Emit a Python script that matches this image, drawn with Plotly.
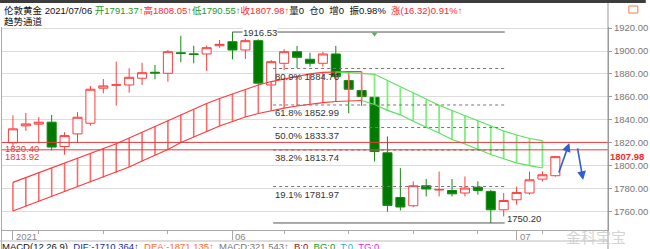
import plotly.graph_objects as go
import datetime

# ---------------- data ----------------
dates = ["2021-05-06","2021-05-07","2021-05-10","2021-05-11","2021-05-12","2021-05-13","2021-05-14",
         "2021-05-17","2021-05-18","2021-05-19","2021-05-20","2021-05-21",
         "2021-05-24","2021-05-25","2021-05-26","2021-05-27","2021-05-28",
         "2021-06-01","2021-06-02","2021-06-03","2021-06-04",
         "2021-06-07","2021-06-08","2021-06-09","2021-06-10","2021-06-11",
         "2021-06-14","2021-06-15","2021-06-16","2021-06-17","2021-06-18",
         "2021-06-21","2021-06-22","2021-06-23","2021-06-24","2021-06-25",
         "2021-06-28","2021-06-29","2021-06-30","2021-07-01","2021-07-02",
         "2021-07-05","2021-07-06"]
opens  = [1820.0,1834.8,1836.3,1838.0,1816.8,1827.8,1837.1,1867.6,1870.2,1870.4,1876.3,1881.5,1880.6,
          1898.5,1897.5,1897.4,1904.6,1908.1,1900.9,1909.0,1870.4,1889.3,1899.4,1892.8,1889.3,1897.4,
          1874.2,1865.5,1859.7,1811.3,1772.4,1765.2,1782.6,1779.0,1778.5,1776.3,1781.4,1777.7,1761.7,
          1770.4,1776.3,1788.4,1791.37]
highs  = [1844.0,1846.0,1842.6,1844.3,1829.3,1846.7,1869.6,1875.6,1890.7,1885.0,1889.8,1887.8,1900.9,
          1913.3,1904.6,1904.6,1909.6,1916.53,1912.4,1910.2,1892.2,1901.5,1904.4,1898.5,1899.4,1904.4,
          1877.7,1869.0,1861.7,1825.5,1798.0,1786.4,1788.5,1795.0,1788.5,1790.7,1786.4,1779.1,1776.3,
          1781.9,1795.0,1795.1,1808.05]
lows   = [1816.5,1830.4,1820.0,1813.3,1809.6,1820.0,1835.0,1863.2,1852.4,1863.7,1870.4,1875.4,1873.3,
          1890.2,1889.3,1882.6,1902.9,1892.8,1893.0,1870.0,1866.0,1883.5,1885.0,1886.4,1886.4,1874.2,
          1845.8,1852.2,1803.8,1760.0,1761.1,1764.0,1773.3,1773.3,1773.3,1773.3,1774.8,1750.20,1755.9,
          1766.1,1774.8,1786.4,1790.55]
closes = [1832.2,1836.5,1838.0,1816.3,1826.3,1842.3,1866.7,1869.6,1870.5,1877.1,1881.1,1880.8,1899.4,
          1897.8,1897.0,1902.9,1905.8,1900.9,1909.0,1872.0,1890.7,1899.4,1894.5,1889.3,1897.4,1877.7,
          1866.7,1860.3,1812.4,1765.5,1764.1,1782.6,1779.8,1779.3,1775.6,1780.6,1778.5,1761.7,1769.8,
          1776.8,1787.8,1792.2,1807.98]

# rising (red) trend channel, starts at bar 0
red_start = 0
red_upper = [1785.6,1789.8,1794.0,1798.2,1802.4,1806.6,1810.8,1815.0,1819.2,1824.2,1829.2,1834.2,1839.5,
             1844.5,1849.0,1854.3,1858.6,1862.7,1866.6,1870.4,1873.4,1875.8,1878.0,1880.0,1881.3,1882.0,
             1882.1,1882.1]
red_lower = [1760.6,1764.8,1769.0,1773.2,1777.4,1781.5,1785.7,1789.9,1794.2,1799.0,1804.2,1809.4,1814.2,
             1820.3,1825.1,1829.9,1834.7,1838.6,1842.5,1845.6,1848.2,1850.3,1852.1,1853.8,1855.1,1856.0,
             1856.6,1856.9]
# falling (green) trend channel
green_up_start = 25
green_upper = [1881.7,1881.3,1880.6,1879.7,1874.3,1868.2,1863.4,1857.8,1852.7,1848.2,1843.6,1839.5,1834.7,
               1830.3,1826.8,1823.8,1822.0]
green_low_start = 27
green_lower = [1856.9,1853.4,1848.3,1844.4,1838.8,1833.8,1828.6,1822.9,1819.0,1814.4,1809.8,1806.1,1802.6,
               1800.1,1798.1]
green_hatch_from = 28

fib_high = 1916.53
fib_low = 1750.20
fib_ratios = [0.809, 0.618, 0.500, 0.382, 0.191]
ref_lines = [1820.40, 1813.92]
last_close = 1807.98
# hand-drawn arrows: (x0, y0) -> (x1, y1) in bar index / price
arrows = [((42.23, 1792.9), (43.08, 1819.9)), ((43.70, 1816.4), (44.15, 1787.6))]
signal_bar, signal_price = 28, 1914.8

# ---------------- layout geometry ----------------
W, H = 650, 249
L, R, T, B = 2, 38, 27, 19
PW, PH = W - L - R, H - T - B
XR = [-0.846, 46.077]
YR = [1744.08, 1920.91]

def pxx(p):
    return (p - L) / PW

def pxy(p):
    return (T + PH - p) / PH

fig = go.Figure()

# red channel
n_red = len(red_upper)
xr = list(range(red_start, red_start + n_red))
vx, vy = [], []
for k in range(n_red):
    vx += [xr[k], xr[k], None]
    vy += [red_lower[k], red_upper[k], None]
fig.add_trace(go.Scatter(x=vx, y=vy, mode="lines", line=dict(color="#ff6a6a", width=1.6), hoverinfo="skip"))
fig.add_trace(go.Scatter(x=xr, y=red_upper, mode="lines", line=dict(color="#ff3b3b", width=1.2), hoverinfo="skip"))
fig.add_trace(go.Scatter(x=xr, y=red_lower, mode="lines", line=dict(color="#ff3b3b", width=1.2), hoverinfo="skip"))

# green channel
xgu = list(range(green_up_start, green_up_start + len(green_upper)))
xgl = list(range(green_low_start, green_low_start + len(green_lower)))
vx, vy = [], []
for k, xi in enumerate(xgl):
    if xi >= green_hatch_from:
        vx += [xi, xi, None]
        vy += [green_lower[k], green_upper[xi - green_up_start], None]
fig.add_trace(go.Scatter(x=vx, y=vy, mode="lines", line=dict(color="#7cf07c", width=1.8), hoverinfo="skip"))
fig.add_trace(go.Scatter(x=xgu, y=green_upper, mode="lines", line=dict(color="#5ee05e", width=1.2), hoverinfo="skip"))
fig.add_trace(go.Scatter(x=xgl, y=green_lower, mode="lines", line=dict(color="#5ee05e", width=1.2), hoverinfo="skip"))

# candles
xs = list(range(len(dates)))
fig.add_trace(go.Candlestick(
    x=xs, open=opens, high=highs, low=lows, close=closes,
    increasing=dict(line=dict(color="#ff3c3c", width=1), fillcolor="#ffffff"),
    decreasing=dict(line=dict(color="#138a13", width=1), fillcolor="#007a00"),
    whiskerwidth=0, hoverinfo="skip"))

# signal marker
fig.add_trace(go.Scatter(x=[signal_bar], y=[signal_price], mode="markers",
                         marker=dict(symbol="triangle-down", size=5, color="#33cc33"), hoverinfo="skip"))

shapes = []
annotations = []
dark = "#555555"
fx0, fx1 = 20.15, 38.08
# fib extremes
shapes.append(dict(type="line", xref="x", yref="y", x0=17.0, x1=fx1, y0=fib_high, y1=fib_high,
                   line=dict(color=dark, width=1)))
shapes.append(dict(type="line", xref="x", yref="y", x0=fx0, x1=fx1, y0=fib_low, y1=fib_low,
                   line=dict(color=dark, width=1)))
annotations.append(dict(x=17.75, y=fib_high, xref="x", yref="y", text=f"{fib_high:.2f}", showarrow=False,
                        xanchor="left", yanchor="middle", bgcolor="white", borderpad=0,
                        font=dict(size=9.5, color="#333")))
annotations.append(dict(x=fx1 + 0.05, y=fib_low, xref="x", yref="y", text=f"{fib_low:.2f}", showarrow=False,
                        xanchor="left", yanchor="middle", yshift=4, font=dict(size=9.5, color="#333")))
for r in fib_ratios:
    v = fib_low + r * (fib_high - fib_low)
    shapes.append(dict(type="line", xref="x", yref="y", x0=fx0, x1=fx1, y0=v, y1=v,
                       line=dict(color="#777", width=1, dash="dot")))
    annotations.append(dict(x=fx0, y=v, xref="x", yref="y", text=f"{r*100:.1f}% {v:.2f}", showarrow=False,
                            xanchor="left", yanchor="top", yshift=0, font=dict(size=9.5, color="#333")))

# red reference lines
for v in ref_lines:
    shapes.append(dict(type="line", xref="paper", yref="y", x0=0, x1=1, y0=v, y1=v,
                       line=dict(color="#e83a3a", width=1)))
    annotations.append(dict(x=pxx(3), y=v, xref="paper", yref="y", text=f"{v:.2f}", showarrow=False,
                            xanchor="left", yanchor="top", yshift=1, font=dict(size=9.5, color="#e83a3a")))

# last price on axis
annotations.append(dict(x=1, y=last_close, xref="paper", yref="y", text=f"<b>{last_close:.2f}</b>",
                        showarrow=False, xanchor="left", xshift=1, yanchor="middle", bgcolor="white",
                        borderpad=0, font=dict(size=9.5, color="#ff2a2a")))

# arrows
for (x0, y0), (x1, y1) in arrows:
    annotations.append(dict(x=x1, y=y1, ax=x0, ay=y0, xref="x", yref="y", axref="x", ayref="y",
                            showarrow=True, arrowhead=2, arrowsize=1.1, arrowwidth=1.6,
                            arrowcolor="#2f5fd0", text=""))

# x-axis date labels (left aligned at first bar / month starts)
prev = None
major = []
for i, d in enumerate(dates):
    y, m = d[:4], d[5:7]
    if prev is None:
        major.append((i, y))
    elif m != prev:
        major.append((i, m))
    prev = m
for i, lab in major:
    annotations.append(dict(x=i, y=pxy(236), xref="x", yref="paper", text=lab, showarrow=False,
                            xanchor="left", xshift=1, yanchor="middle", font=dict(size=9.5, color="#888")))
mondays = [i for i, d in enumerate(dates) if datetime.date.fromisoformat(d).weekday() == 0]

# header
g, r_ = "#1e9a1e", "#ff2a2a"
hdr = (f"伦敦黄金 2021/07/06 <span style='color:{g}'>开{opens[-1]:.2f}↑</span>"
       f"<span style='color:{r_}'>高{highs[-1]:.2f}↑</span>"
       f"<span style='color:{g}'>低{lows[-1]:.2f}↑</span>"
       f"<span style='color:{r_}'>收{closes[-1]:.2f}↑</span>量0  仓0  增0  振0.98%  "
       f"<span style='color:{r_}'>涨(16.32)0.91%↑</span>")
annotations.append(dict(x=pxx(2), y=pxy(10), xref="paper", yref="paper", text=hdr, showarrow=False,
                        xanchor="left", yanchor="middle", font=dict(size=9.5, color="#111")))
annotations.append(dict(x=pxx(2), y=pxy(21), xref="paper", yref="paper", text="趋势通道", showarrow=False,
                        xanchor="left", yanchor="middle", font=dict(size=9.5, color="#111")))
# MACD row (cut by window edge, as in the reference)
macd = ("MACD(12,26,9)  <span style='color:#1a2a9a'>DIF:-1710.364↑</span>  "
        "<span style='color:#ff6a2a'>DEA:-1871.135↑</span>  <span style='color:#777'>MACD:321.543↑</span>  "
        "<span style='color:#a01010'>B:0</span>  <span style='color:#1a9a1a'>BG:0</span>  "
        "<span style='color:#22bbdd'>T:0</span>  <span style='color:#ee22ee'>TG:0</span>")
annotations.append(dict(x=pxx(0), y=pxy(246.5), xref="paper", yref="paper", text=macd, showarrow=False,
                        xanchor="left", yanchor="middle", font=dict(size=9.5, color="#111")))
# watermark
annotations.append(dict(x=pxx(600), y=pxy(237), xref="paper", yref="paper", text="金科宝宝", showarrow=False,
                        xanchor="center", yanchor="middle", font=dict(size=15, color="rgba(200,200,200,0.8)")))

# frame pieces
shapes.append(dict(type="rect", xref="paper", yref="paper", x0=pxx(0), x1=pxx(650), y0=pxy(3), y1=pxy(0),
                   fillcolor="#3c3c3c", line=dict(width=0), layer="above"))
shapes.append(dict(type="line", xref="paper", yref="paper", x0=1, x1=1, y0=pxy(249), y1=pxy(3),
                   line=dict(color="#999", width=1)))
shapes.append(dict(type="line", xref="paper", yref="paper", x0=pxx(1.5), x1=pxx(1.5), y0=pxy(249), y1=pxy(27),
                   line=dict(color="#aaa", width=1)))
shapes.append(dict(type="line", xref="paper", yref="paper", x0=pxx(0), x1=1, y0=pxy(241), y1=pxy(241),
                   line=dict(color="#bbb", width=1)))
shapes.append(dict(type="rect", xref="paper", yref="paper", x0=pxx(633), x1=pxx(642), y0=pxy(13), y1=pxy(6),
                   line=dict(color="#f08040", width=1), fillcolor="rgba(0,0,0,0)"))

fig.update_layout(
    width=W, height=H, margin=dict(l=L, r=R, t=T, b=B),
    paper_bgcolor="white", plot_bgcolor="white", showlegend=False,
    boxgap=0.3, boxgroupgap=0,
    font=dict(family="Liberation Sans, Arial, Noto Sans CJK SC, sans-serif", size=9.5),
    shapes=shapes, annotations=annotations,
    xaxis=dict(range=XR, rangeslider=dict(visible=False), showgrid=False, zeroline=False,
               showline=True, linecolor="#aaa", linewidth=1,
               tickmode="array", tickvals=[i for i, _ in major], ticktext=["" for _ in major],
               ticks="outside", ticklen=9, tickcolor="#aaa",
               minor=dict(tickmode="array", tickvals=mondays, ticks="outside", ticklen=3, tickcolor="#aaa")),
    yaxis=dict(range=YR, side="right", tick0=1760, dtick=20, tickformat=".2f",
               showgrid=True, gridcolor="#dcdcdc", gridwidth=1, zeroline=False,
               showline=True, linecolor="#999", ticks="outside", ticklen=3, tickcolor="#999",
               tickfont=dict(size=9.5, color="#777")),
)

fig.write_html("out.html")
